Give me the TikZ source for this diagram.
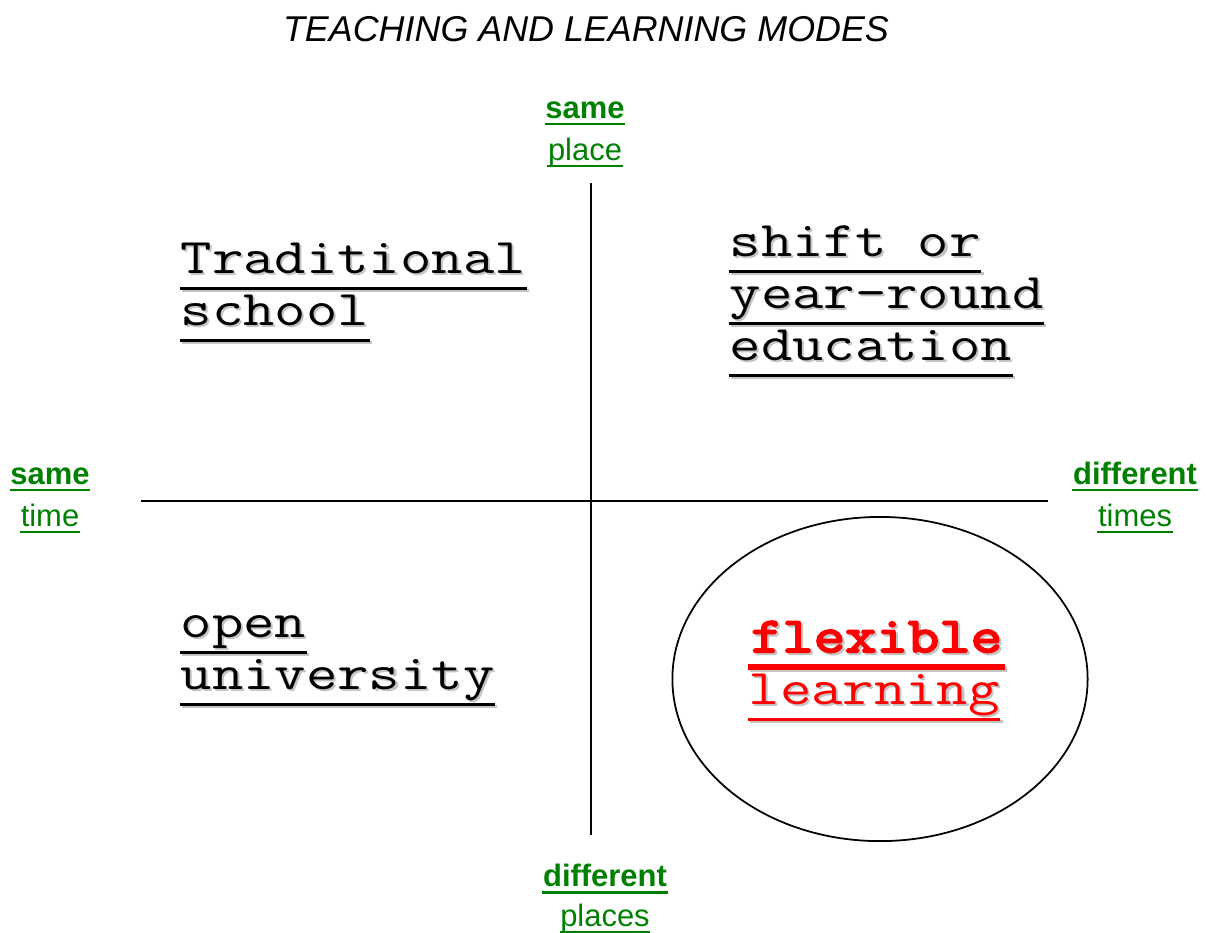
\documentclass[tikz,border=0pt]{standalone}
\usepackage{fontspec}
\setmainfont{Liberation Sans}
\newfontfamily\courier[FakeStretch=1.22]{Latin Modern Mono}
\newfontfamily\courierbold[FakeStretch=1.22, FakeBold=4]{Latin Modern Mono}

\definecolor{axisgreen}{HTML}{008000}
\definecolor{shadowgrey}{HTML}{C4C4C4}

\tikzset{
  modetext/.style={font=\courier\fontsize{14.2}{16}\selectfont, inner sep=0pt, anchor=base west},
  modeul/.style={line width=0.85pt},
  axislabel/.style={font=\fontsize{8.8}{10}\selectfont, text=axisgreen, inner sep=0pt, anchor=base},
}

% one underlined line of mode text, grey drop shadow first
\newcommand{\modeline}[4][]{%
  \node[modetext, #1, text=shadowgrey, xshift=0.6pt, yshift=-0.6pt] (#2-sh) at (#3) {#4};
  \draw[modeul, #1, draw=shadowgrey] ([yshift=-4.3pt]#2-sh.base west) -- ([yshift=-4.3pt]#2-sh.base east);
  \node[modetext, #1] (#2) at (#3) {#4};
  \draw[modeul, #1] ([yshift=-4.3pt]#2.base west) -- ([yshift=-4.3pt]#2.base east);
}

\begin{document}
\begin{tikzpicture}[x=0.01cm, y=-0.01cm]
\useasboundingbox (0,0) rectangle (1207,932);

\node[font=\fontsize{10.2}{12}\selectfont\itshape, inner sep=0pt, anchor=base] (title) at (586,41) {TEACHING AND LEARNING MODES};

% axes
\coordinate (top) at (591,183);
\coordinate (bottom) at (591,835);
\coordinate (left) at (141,501);
\coordinate (right) at (1048,501);
\draw[line width=0.6pt] (top) -- (bottom);
\draw[line width=0.6pt] (left) -- (right);

% green end labels, bold word over plain word
\foreach \n/\x/\ya/\yb/\wa/\wb in {pl/585/118/160/same/place, tm/50/484/526/same/time,
  ts/1135/484/526/different/times, ps/605/886/926/different/places}
{ \node[axislabel, font=\fontsize{8.8}{10}\selectfont\bfseries] (\n a) at (\x,\ya) {\wa};
  \node[axislabel] (\n b) at (\x,\yb) {\wb};
  \draw[axisgreen, line width=0.85pt] ([yshift=-1.7pt]\n a.base west) -- ([yshift=-1.7pt]\n a.base east);
  \draw[axisgreen, line width=0.6pt] ([yshift=-1.7pt]\n b.base west) -- ([yshift=-1.7pt]\n b.base east);
}

% quadrants
\modeline{trad}{180,273}{Traditional}
\modeline{school}{180,325}{school}
\modeline{shift}{729,256}{shift or}
\modeline{yearround}{729,308}{year-round}
\modeline{edu}{729,360}{education}
\modeline{open}{180,637}{open}
\modeline{univ}{180,689}{university}

\draw[line width=0.5pt] (880,679) ellipse [x radius=2.075cm, y radius=1.62cm];
\modeline[red, font=\courierbold\fontsize{14.2}{16}\selectfont, line width=1.7pt]{flex}{748,652}{flexible}
\modeline[red]{learn}{748,704}{learning}
\end{tikzpicture}
\end{document}
